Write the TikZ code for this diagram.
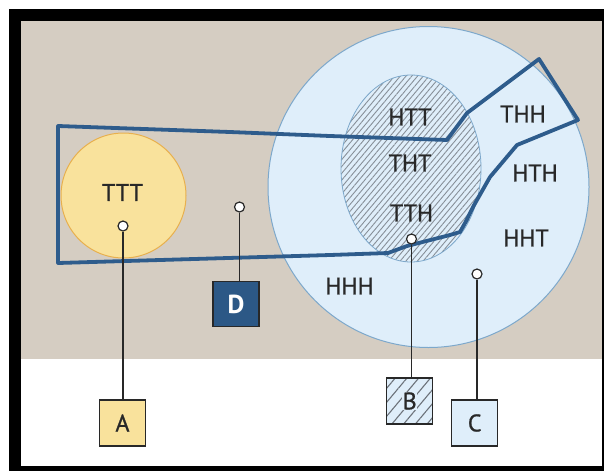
\documentclass[tikz,border=0pt]{standalone}
\usepackage{fontspec}
\setmainfont{PT Sans}
\newfontfamily\lblfont{PT Sans}[FakeBold=0.9]
\usetikzlibrary{patterns.meta}
\definecolor{beige}{RGB}{213,205,194}
\definecolor{lblue}{RGB}{223,238,250}
\definecolor{cborder}{RGB}{125,168,203}
\definecolor{yel}{RGB}{249,226,156}
\definecolor{yelb}{RGB}{232,176,78}
\definecolor{dblue}{RGB}{46,92,140}
\definecolor{dboxc}{RGB}{44,88,134}
\definecolor{txt}{RGB}{40,40,40}
\definecolor{hatchc}{RGB}{135,143,152}
\tikzset{
  lbl/.style={font=\lblfont\fontsize{24}{24}\selectfont, text=txt, inner sep=0pt},
  keybox/.style={draw=txt, line width=1.3pt, minimum width=46pt, minimum height=46pt, inner sep=0pt, font=\lblfont\fontsize{24}{24}\selectfont, text=txt},
  pin/.style={circle, draw=txt, fill=white, line width=1.2pt, minimum size=10pt, inner sep=0pt},
  lead/.style={draw=txt, line width=1.1pt},
}
\begin{document}
\begin{tikzpicture}[x=1pt,y=-1pt]
\useasboundingbox (0,0) rectangle (604,471);
\fill[white] (0,0) rectangle (604,471);
\fill[black] (9,9) rectangle (604,471);
\fill[white] (21,21) rectangle (602,466);
\fill[beige] (21,21) rectangle (602,359);
% big circle
\draw[cborder, fill=lblue, line width=1pt] (428.5,187) circle [radius=160.5];
% hatched ellipse
\draw[cborder, line width=0.8pt, preaction={fill=lblue}, pattern={Lines[angle=50,distance=4.4pt,line width=0.9pt]}, pattern color=hatchc] (411,168.5) ellipse [x radius=70, y radius=93.5];
% yellow circle
\draw[yelb, fill=yel, line width=1pt] (123.5,195.5) circle [radius=62.5];
% event path
\draw[dblue, line width=3.8pt, line join=round]
  (58,126) -- (230,132) -- (330,136) -- (447,140) -- (467,113) -- (539,59) -- (578,120)
  -- (517,145) -- (490,177) -- (473,207) -- (465,223) -- (460,232) -- (450,235)
  -- (407,246) -- (388,253) -- (330,255) -- (58,263) -- cycle;
% labels
\node[lbl] (tTTT) at (122.5,192.5) {TTT};
\node[lbl] (tHTT) at (410,117) {HTT};
\node[lbl] (tTHT) at (410,163) {THT};
\node[lbl] (tTTH) at (411.5,213) {TTH};
\node[lbl] (tTHH) at (523,114) {THH};
\node[lbl] (tHTH) at (535,173) {HTH};
\node[lbl] (tHHT) at (526,238) {HHT};
\node[lbl] (tHHH) at (349.5,286) {HHH};
% key boxes
\node[keybox, fill=yel] (A) at (122.5,423) {A};
\node[keybox, preaction={fill=lblue}, pattern={Lines[angle=50,distance=9pt,line width=1.1pt]}, pattern color=hatchc!80!black] (B) at (409.7,401) {};
\node[font=\lblfont\fontsize{24}{24}\selectfont, text=txt, fill=lblue, inner sep=0.5pt] (Blab) at (B.center) {B};
\node[keybox, fill=lblue] (C) at (474.7,423) {C};
\node[keybox, fill=dboxc, text=white, font=\fontsize{26}{26}\selectfont\bfseries, minimum height=45pt] (D) at (236,304) {D};
% pins
\node[pin] (pA) at (123,226) {};
\node[pin] (pD) at (239.5,207) {};
\node[pin] (pB) at (411.5,239) {};
\node[pin] (pC) at (477,274) {};
\draw[lead] (pA) -- (pA |- A.north);
\draw[lead] (pD) -- (pD |- D.north);
\draw[lead] (pB) -- (pB |- B.north);
\draw[lead] (pC) -- (pC |- C.north);
\end{tikzpicture}
\end{document}
